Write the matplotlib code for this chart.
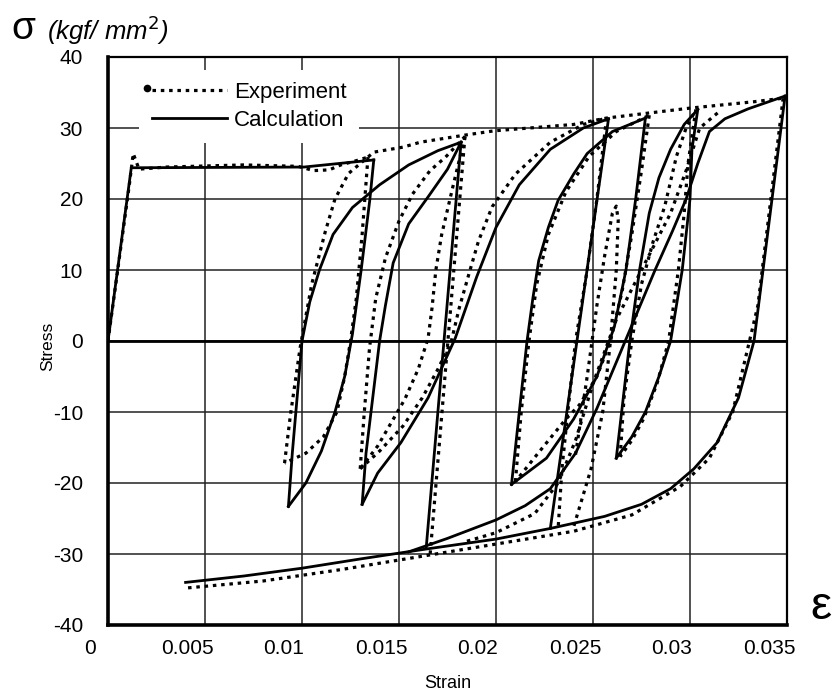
import matplotlib
matplotlib.use("Agg")
import matplotlib.pyplot as plt
from matplotlib.transforms import ScaledTranslation

plt.rcParams['font.family'] = ['Liberation Sans', 'DejaVu Sans']
plt.rcParams['axes.unicode_minus'] = False

# calculated stress-strain path, one branch between reversals at a time
calc_x_0 = [0.0, 0.0012, 0.0101, 0.0137]
calc_y_0 = [0.0, 24.4, 24.5, 25.5]
calc_x_1 = [0.0137, 0.0135, 0.01305, 0.0126, 0.0122, 0.0117, 0.0110, 0.0102, 0.0093]
calc_y_1 = [25.5, 20.0, 10.0, 1.0, -5.0, -10.0, -15.5, -20.0, -23.3]
calc_x_2 = [0.0093, 0.0095, 0.0100, 0.0104, 0.0109, 0.0116, 0.0126, 0.0140, 0.0155, 0.0170, 0.0182]
calc_y_2 = [-23.3, -15.8, 0.0, 5.5, 10.0, 15.0, 18.8, 22.0, 24.8, 26.8, 28.0]
calc_x_3 = [0.0182, 0.0164]
calc_y_3 = [28.0, -29.2]
calc_x_4 = [0.0131, 0.0133, 0.0140, 0.0143, 0.0147, 0.0155, 0.0165, 0.0175, 0.0182]
calc_y_4 = [-23.0, -15.8, 0.0, 5.0, 11.0, 16.5, 20.3, 24.2, 28.0]
calc_x_5 = [0.0131, 0.0139, 0.0151, 0.0165, 0.0179, 0.0190, 0.0200, 0.0212, 0.0228, 0.0245, 0.0258]
calc_y_5 = [-23.0, -18.6, -14.3, -8.0, 0.4, 9.0, 16.0, 22.0, 27.0, 30.0, 31.3]
calc_x_6 = [0.0258, 0.0228]
calc_y_6 = [31.3, -26.4]
calc_x_7 = [0.0208, 0.0212, 0.0216, 0.0219, 0.0222, 0.0227, 0.0232, 0.0240, 0.0247, 0.0260, 0.0277]
calc_y_7 = [-20.2, -10.0, 0.0, 6.0, 11.3, 16.0, 19.8, 23.5, 26.4, 29.5, 31.4]
calc_x_8 = [0.0277, 0.0272, 0.0267, 0.0261, 0.0252, 0.0240, 0.0226, 0.0208]
calc_y_8 = [31.4, 20.0, 10.0, 2.0, -5.0, -11.0, -16.5, -20.2]
calc_x_9 = [0.0304, 0.0301, 0.0300, 0.0296, 0.0290, 0.0284, 0.0277, 0.0270, 0.0262]
calc_y_9 = [32.6, 27.0, 20.0, 10.0, 0.0, -5.0, -10.0, -13.5, -16.5]
calc_x_10 = [0.0262, 0.0269, 0.0274, 0.0279, 0.0284, 0.0290, 0.0297, 0.0304]
calc_y_10 = [-16.5, 0.0, 10.0, 18.0, 23.0, 27.0, 30.5, 32.6]
calc_x_11 = [0.0349, 0.0333, 0.0325, 0.0314, 0.0302, 0.0290, 0.0275, 0.0256, 0.0228,
             0.0200, 0.0164, 0.0130, 0.0100, 0.0070, 0.0040]
calc_y_11 = [34.5, 0.0, -8.0, -14.3, -18.0, -20.8, -23.0, -24.7, -26.4,
             -27.9, -29.3, -30.7, -32.0, -33.1, -34.0]
calc_x_12 = [0.0155, 0.0175, 0.0200, 0.0215, 0.0228, 0.0241, 0.0252, 0.0262, 0.0272,
             0.0282, 0.0291, 0.0298, 0.0304, 0.0310, 0.0318, 0.0330, 0.0349]
calc_y_12 = [-29.7, -27.8, -25.2, -23.2, -20.8, -15.8, -9.5, -3.0, 3.5,
             10.0, 15.5, 20.0, 25.0, 29.5, 31.3, 32.7, 34.5]

# measured path
exp_x_0 = [0.0, 0.0006, 0.0011, 0.0013, 0.0016, 0.0030, 0.0070, 0.0098, 0.0106, 0.0114,
           0.0120, 0.0128, 0.0134]
exp_y_0 = [0.0, 12.0, 22.0, 26.4, 24.2, 24.5, 24.8, 24.6, 24.0, 24.1, 24.8, 25.4, 25.9]
exp_x_1 = [0.0134, 0.0131, 0.0128, 0.0125, 0.0122, 0.0118, 0.0111, 0.0102, 0.0091]
exp_y_1 = [25.9, 15.0, 6.0, 0.0, -5.0, -10.0, -13.5, -15.8, -17.2]
exp_x_2 = [0.0091, 0.0094, 0.0099, 0.0105, 0.0112, 0.0117, 0.0124, 0.0137, 0.0152,
           0.0161, 0.0184, 0.0199, 0.0240, 0.0257, 0.0300, 0.0333, 0.0348]
exp_y_2 = [-17.2, -10.5, -1.0, 8.0, 15.4, 20.0, 23.6, 26.6, 27.3,
           28.0, 29.0, 29.6, 30.5, 31.4, 32.8, 33.7, 34.2]
exp_x_3 = [0.0184, 0.0178, 0.0172, 0.0169, 0.0167, 0.0165, 0.0160, 0.0153, 0.0146, 0.0139, 0.0130]
exp_y_3 = [28.8, 22.0, 15.0, 10.0, 4.6, 0.4, -3.9, -8.2, -11.5, -14.8, -18.0]
exp_x_4 = [0.0130, 0.0132, 0.01348, 0.0138, 0.0143, 0.0150, 0.0157, 0.0166, 0.0174, 0.0184]
exp_y_4 = [-18.0, -10.4, -1.0, 6.0, 11.7, 16.9, 20.7, 24.0, 25.9, 28.8]
exp_x_5 = [0.0184, 0.0166]
exp_y_5 = [28.8, -30.2]
exp_x_6 = [0.0348, 0.0335, 0.0322, 0.0310, 0.0295, 0.0270, 0.0240, 0.0200, 0.0160,
           0.0120, 0.0080, 0.0040]
exp_y_6 = [34.2, 5.0, -10.0, -16.5, -20.5, -24.5, -26.8, -28.6, -30.4, -32.2, -33.8, -34.8]
exp_x_7 = [0.0210, 0.0213, 0.0217, 0.0221, 0.0227, 0.0236, 0.0248, 0.0262, 0.0279]
exp_y_7 = [-19.8, -10.0, 0.0, 8.0, 15.0, 21.0, 26.0, 29.5, 31.8]
exp_x_8 = [0.0279, 0.0275, 0.0270, 0.0265, 0.0259, 0.0252, 0.0243, 0.0236, 0.0222, 0.0210]
exp_y_8 = [31.8, 24.0, 15.0, 7.0, 0.0, -5.0, -9.0, -11.0, -15.7, -19.8]
exp_x_9 = [0.0241, 0.0247, 0.0252, 0.0256, 0.0260, 0.0262, 0.0263, 0.0262, 0.0259, 0.0255,
           0.0249, 0.0240]
exp_y_9 = [-16.0, -5.0, 5.0, 12.0, 18.0, 19.0, 17.0, 10.0, 0.0, -10.0, -18.0, -26.2]
exp_x_10 = [0.0257, 0.0252, 0.0247, 0.0241, 0.0237, 0.0234, 0.0232]
exp_y_10 = [31.4, 20.0, 10.0, 0.0, -10.0, -18.0, -26.5]
exp_x_11 = [0.0303, 0.0299, 0.0297, 0.0294, 0.0289, 0.0283, 0.0276, 0.0270, 0.0264]
exp_y_11 = [32.6, 25.0, 18.0, 10.0, 0.0, -6.0, -11.0, -14.0, -16.3]
exp_x_12 = [0.0264, 0.0266, 0.0270, 0.0275, 0.0281, 0.0287, 0.0293, 0.0298, 0.0303]
exp_y_12 = [-16.3, -8.0, 0.0, 8.0, 14.0, 19.0, 26.0, 30.0, 32.6]
exp_x_13 = [0.0185, 0.0200, 0.0220, 0.0232, 0.0241, 0.0250, 0.0262, 0.0275, 0.0290,
            0.0298, 0.0305, 0.0315]
exp_y_13 = [-28.2, -27.0, -24.3, -20.0, -14.0, -6.0, 3.0, 10.0, 18.0, 24.0, 30.0, 32.3]
exp_x_14 = [0.0130, 0.0140, 0.0152, 0.0162, 0.0170, 0.0177, 0.0181, 0.0186, 0.0191, 0.0198,
            0.0210, 0.0228, 0.0245, 0.0257]
exp_y_14 = [-18.0, -15.5, -12.0, -8.0, -4.0, 0.0, 4.6, 9.4, 14.1, 18.9,
            23.5, 28.0, 30.5, 31.4]

xticks = [0, 0.005, 0.01, 0.015, 0.02, 0.025, 0.03, 0.035]
xtick_labels = ['0', '0.005', '0.01', '0.015', '0.02', '0.025', '0.03', '0.035']
yticks = [-40, -30, -20, -10, 0, 10, 20, 30, 40]

calc_branches = [(calc_x_0, calc_y_0), (calc_x_1, calc_y_1), (calc_x_2, calc_y_2),
                 (calc_x_3, calc_y_3), (calc_x_4, calc_y_4), (calc_x_5, calc_y_5),
                 (calc_x_6, calc_y_6), (calc_x_7, calc_y_7), (calc_x_8, calc_y_8),
                 (calc_x_9, calc_y_9), (calc_x_10, calc_y_10), (calc_x_11, calc_y_11),
                 (calc_x_12, calc_y_12)]
exp_branches = [(exp_x_0, exp_y_0), (exp_x_1, exp_y_1), (exp_x_2, exp_y_2),
                (exp_x_3, exp_y_3), (exp_x_4, exp_y_4), (exp_x_5, exp_y_5),
                (exp_x_6, exp_y_6), (exp_x_7, exp_y_7), (exp_x_8, exp_y_8),
                (exp_x_9, exp_y_9), (exp_x_10, exp_y_10), (exp_x_11, exp_y_11),
                (exp_x_12, exp_y_12), (exp_x_13, exp_y_13), (exp_x_14, exp_y_14)]

dots = (0, (1.1, 1.5))

fig = plt.figure(figsize=(8.4, 6.96), dpi=100)
ax = fig.add_axes([108 / 840, 1 - 625 / 696, 679 / 840, 568 / 696])

for xs, ys in calc_branches:
    ax.plot(xs, ys, color='black', lw=2.0, zorder=3)
for xs, ys in exp_branches:
    ax.plot(xs, ys, color='black', lw=2.3, ls=dots, zorder=3)

ax.set_xlim(0, 0.035)
ax.set_ylim(-40, 40)
ax.set_xticks(xticks)
ax.set_xticklabels(xtick_labels)
ax.set_yticks(yticks)
ax.tick_params(length=0, labelsize=15, pad=10)
ax.tick_params(axis='y', pad=18)
ax.grid(True, color='#222222', lw=1.1)
ax.axhline(0, color='black', lw=2.0, zorder=2)
for side in ['left', 'bottom']:
    ax.spines[side].set_linewidth(2.6)
for side in ['top', 'right']:
    ax.spines[side].set_linewidth(1.6)

# the tick labels sit a little left of their grid lines
shift = ScaledTranslation(-18 / 100, 0, fig.dpi_scale_trans)
for lab in ax.get_xticklabels():
    lab.set_transform(lab.get_transform() + shift)

ax.set_xlabel('Strain', fontsize=13, labelpad=12)
ax.set_ylabel('Stress', fontsize=12.5)
ax.yaxis.set_label_coords(-0.078, 0.49)

leg_exp, = ax.plot([], [], color='black', lw=2.3, ls=dots)
leg_calc, = ax.plot([], [], color='black', lw=2.0)
leg = ax.legend([leg_exp, leg_calc], ['Experiment', 'Calculation'], loc='upper left',
                bbox_to_anchor=(0.03, 0.997), frameon=True, fontsize=16, handlelength=3.4,
                handletextpad=0.3, labelspacing=0.3, borderpad=0.55)
leg.get_frame().set_edgecolor('none')
leg.get_frame().set_facecolor('white')
leg.get_frame().set_alpha(1)
# small dot at the head of the experiment key
fig.add_artist(plt.Line2D([147 / 840], [1 - 88 / 696], marker='o', ms=4.5,
                          color='black', transform=fig.transFigure))

fig.text(0.014, 0.958, 'σ', fontsize=28, va='center', ha='left')
fig.text(0.056, 0.956, '(kgf/ mm$^2$)', fontsize=18.5, style='italic', va='center', ha='left')
fig.text(0.965, 0.128, 'ε', fontsize=34, va='center', ha='left')

fig.savefig('out.png', dpi=100)
